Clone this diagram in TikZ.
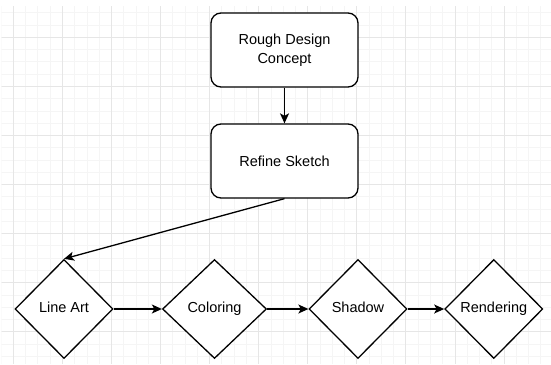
\documentclass[tikz,border=0pt]{standalone}
\usepackage{fontspec}
\setmainfont{Liberation Sans}
\usetikzlibrary{shapes.geometric,arrows.meta}
\definecolor{gridminor}{HTML}{F5F5F5}
\definecolor{gridmajor}{HTML}{E6E6E6}
\begin{document}
\begin{tikzpicture}[x=1pt,y=-1pt,
  label font/.style={font=\fontsize{14.5}{18.7}\selectfont},
  box/.style={draw, line width=1.3pt, rounded corners=10pt, fill=white,
    minimum width=147pt, minimum height=74pt, inner sep=0pt,
    align=center, label font},
  stage/.style={diamond, draw, line width=1.3pt, fill=white, inner sep=0pt,
    minimum height=99pt, text height=10.5pt, text depth=3pt, label font},
  link/.style={-{Stealth[length=10pt,width=9pt,inset=2.5pt]}, line width=1.3pt}]
\useasboundingbox (0,0) rectangle (551,364);
\fill[white] (0,0) rectangle (551,364);

% background grid
\begin{scope}
  \clip (1.5,6.5) rectangle (551,364);
  \foreach \i in {0,...,45}
    \draw[gridminor, line width=0.8pt] ({1.03+12.267*\i},0) -- ++(0,364);
  \foreach \j in {0,...,30}
    \draw[gridminor, line width=0.8pt] (0,{0.5+12.267*\j}) -- ++(551,0);
  \foreach \k in {0,...,11}
    \draw[gridmajor, line width=0.8pt] ({13.3+49.07*\k},0) -- ++(0,364);
  \foreach \k in {0,...,7}
    \draw[gridmajor, line width=0.8pt] (0,{37.3+49.07*\k}) -- ++(551,0);
\end{scope}

% process boxes
\node[box] (concept) at (284.5,50) {Rough Design\\Concept};
\node[box] (refine) at (284.5,161) {Refine Sketch};

% stage diamonds
\node[stage, minimum width=98pt]  (lineart)   at (64,309)    {Line Art};
\node[stage, minimum width=104pt] (coloring)  at (214.5,309) {Coloring};
\node[stage, minimum width=98pt]  (shadow)    at (358,309)   {Shadow};
\node[stage, minimum width=98pt]  (rendering) at (493.8,309) {Rendering};

% connectors
\draw[link] (concept.south) -- (refine.north);
\draw[link] (refine.south) -- (lineart.north);
\draw[link] (lineart.east) -- (coloring.west);
\draw[link] (coloring.east) -- (shadow.west);
\draw[link] (shadow.east) -- (rendering.west);
\end{tikzpicture}
\end{document}
